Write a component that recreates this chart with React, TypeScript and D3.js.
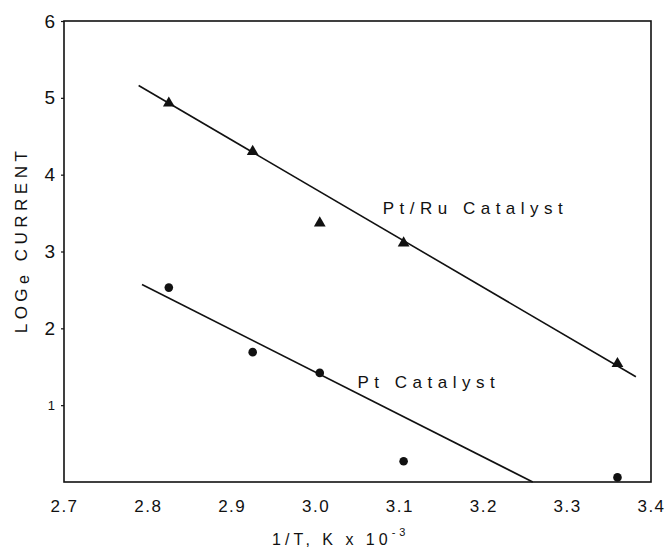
import { useEffect, useRef } from "react";
import * as d3 from "d3";

const xTicks = [2.7, 2.8, 2.9, 3.0, 3.1, 3.2, 3.3, 3.4];
const xTickLabels = ["2.7", "2.8", "2.9", "3.0", "3.1", "3.2", "3.3", "3.4"];
const yTicks = [1, 2, 3, 4, 5, 6];

const tempInv = [2.825, 2.925, 3.005, 3.105, 3.36];
const ptRu = [4.93, 4.3, 3.37, 3.11, 1.54];
const pt = [2.53, 1.69, 1.42, 0.27, 0.06];

// hand drawn fit lines [x, y]
const ptRuFit: [number, number][] = [[2.789, 5.16], [3.382, 1.37]];
const ptFit: [number, number][] = [[2.793, 2.57], [3.259, 0]];

const font = "'Liberation Sans', Arial, sans-serif";

const App = () => {
  const svgRef = useRef<SVGSVGElement>(null);

  useEffect(() => {
    const w = 672;
    const h = 553;
    const svg = d3.select(svgRef.current).attr("width", w).attr("height", h);
    svg.selectAll("*").remove();

    const x = d3.scaleLinear().domain([2.7, 3.4]).range([64, 651]);
    const y = d3.scaleLinear().domain([0, 6]).range([482, 21]);

    svg.append("rect").attr("width", w).attr("height", h).attr("fill", "#fff");

    // frame
    svg
      .append("rect")
      .attr("x", x(2.7))
      .attr("y", y(6))
      .attr("width", x(3.4) - x(2.7))
      .attr("height", y(0) - y(6))
      .attr("fill", "none")
      .attr("stroke", "#111")
      .attr("stroke-width", 1.6);

    const yAxis = d3
      .axisLeft(y)
      .tickValues(yTicks)
      .tickFormat((d) => String(d))
      .tickSize(3)
      .tickPadding(6);
    const gy = svg.append("g").attr("transform", `translate(${x(2.7)},0)`).call(yAxis);
    gy.select(".domain").remove();
    gy.selectAll("line").attr("stroke", "#111").attr("stroke-width", 1.2);
    gy.selectAll("text")
      .attr("font-family", font)
      .attr("fill", "#111")
      .attr("font-size", (d: any) => (d === 1 ? 13 : 19));

    const xAxis = d3
      .axisBottom(x)
      .tickValues(xTicks)
      .tickFormat((d, i) => xTickLabels[i])
      .tickSize(0)
      .tickPadding(18);
    const gx = svg.append("g").attr("transform", `translate(0,${y(0)})`).call(xAxis);
    gx.select(".domain").remove();
    gx.selectAll("text")
      .attr("font-family", font)
      .attr("font-size", 17)
      .attr("fill", "#111")
      .attr("letter-spacing", 1.5);

    const line = d3
      .line<[number, number]>()
      .x((d) => x(d[0]))
      .y((d) => y(d[1]));

    [ptRuFit, ptFit].forEach((f) => {
      svg
        .append("path")
        .attr("d", line(f))
        .attr("fill", "none")
        .attr("stroke", "#111")
        .attr("stroke-width", 1.6);
    });

    const tri = d3.symbol().type(d3.symbolTriangle).size(60);
    svg
      .selectAll(".tri")
      .data(ptRu)
      .join("path")
      .attr("d", tri)
      .attr("transform", (d, i) => `translate(${x(tempInv[i])},${y(d)})`)
      .attr("fill", "#111");

    svg
      .selectAll(".dot")
      .data(pt)
      .join("circle")
      .attr("cx", (d, i) => x(tempInv[i]))
      .attr("cy", (d) => y(d))
      .attr("r", 4.3)
      .attr("fill", "#111");

    const label = (t: string, px: number, py: number) =>
      svg
        .append("text")
        .attr("x", px)
        .attr("y", py)
        .attr("font-family", font)
        .attr("font-size", 17)
        .attr("letter-spacing", 5.5)
        .attr("fill", "#111")
        .text(t);

    label("Pt/Ru Catalyst", x(3.08), y(3.49));
    label("Pt Catalyst", x(3.05), y(1.22));

    // y title
    const yt = svg
      .append("text")
      .attr("transform", `translate(27,${y(3.15)}) rotate(-90)`)
      .attr("text-anchor", "middle")
      .attr("font-family", font)
      .attr("font-size", 17)
      .attr("letter-spacing", 4.5)
      .attr("fill", "#111");
    yt.append("tspan").text("LOG");
    yt.append("tspan").attr("font-size", 16).attr("dy", 2).text("e");
    yt.append("tspan").attr("dy", -2).text(" CURRENT");

    // x title
    const xt = svg
      .append("text")
      .attr("x", x(3.03))
      .attr("y", 545)
      .attr("text-anchor", "middle")
      .attr("font-family", font)
      .attr("font-size", 16)
      .attr("letter-spacing", 4)
      .attr("fill", "#111");
    xt.append("tspan").text("1/T, K x 10");
    xt.append("tspan").attr("font-size", 11).attr("dy", -9).text("-3");
  }, []);

  return <svg ref={svgRef} style={{ display: "block", position: "absolute", left: 0, top: 0 }}></svg>;
};

export default App;
